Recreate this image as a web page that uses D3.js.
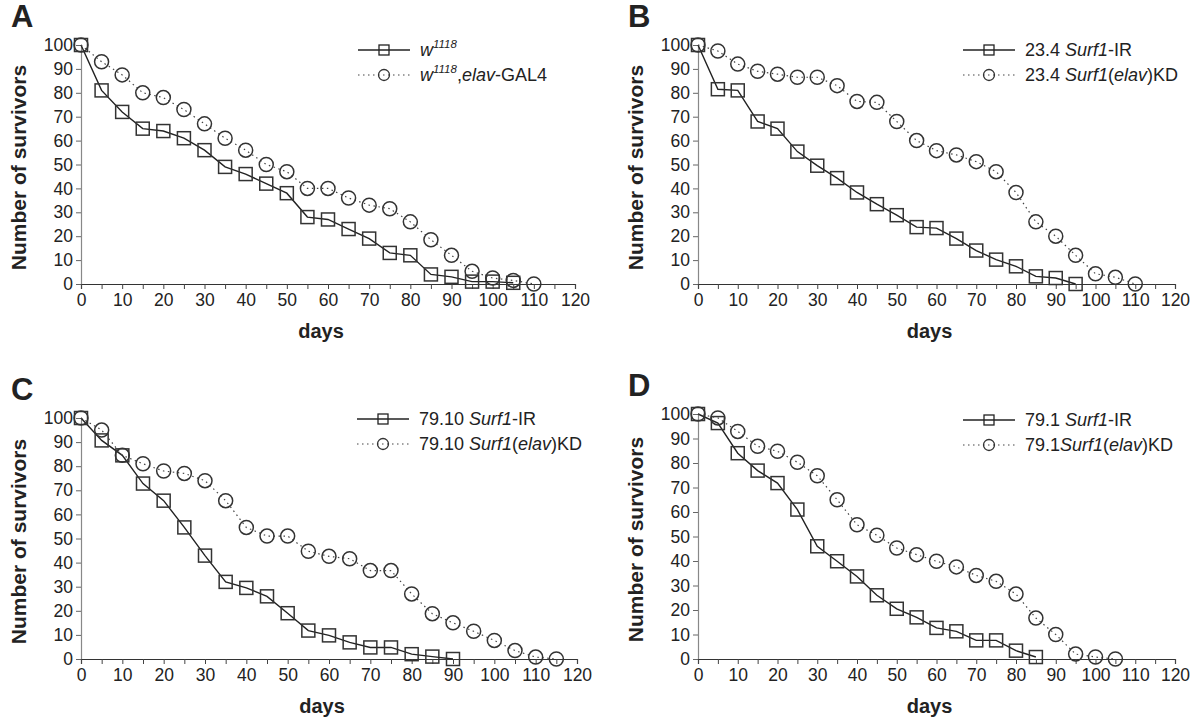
<!DOCTYPE html>
<html>
<head>
<meta charset="utf-8">
<script src="https://cdn.jsdelivr.net/npm/d3@7"></script>
<style>
  body { margin: 0; background: #fff; }
  svg { font-family: "Liberation Sans", Arial, sans-serif; }
</style>
</head>
<body>
<svg id="chart" width="1194" height="722"></svg>
<script>
// survival data (days every 5)
const xTicks = [0, 10, 20, 30, 40, 50, 60, 70, 80, 90, 100, 110, 120];
const yTicks = [0, 10, 20, 30, 40, 50, 60, 70, 80, 90, 100];

const aControl = [100, 81, 72, 65, 64, 61, 56, 49, 46, 42, 38, 28, 27, 23, 19, 13, 12, 4, 3, 1, 1, 0.5];
const aElav = [100, 93, 87.5, 80, 78, 73, 67, 61, 56, 50, 47, 40, 40, 36, 33, 31.5, 26, 18.5, 12, 5.3, 2.5, 1.5, 0];

const bIR = [100, 81.5, 81, 68, 65, 55.4, 49.5, 44.3, 38.3, 33.4, 28.8, 23.8, 23.4, 19, 14, 10.2, 7.4, 3.2, 2.5, 0];
const bKD = [100, 97.5, 92, 89, 87.8, 86.5, 86.5, 83, 76.4, 76, 68, 60, 55.8, 54, 51.2, 47, 38.3, 26, 20, 12, 4.3, 2.8, 0];

const cIR = [100, 90.7, 84.5, 72.8, 65.7, 54.6, 42.9, 32, 29.5, 26, 19, 11.8, 9.8, 6.9, 4.8, 4.8, 2, 1, 0];
const cKD = [100, 95, 84.5, 81, 78, 77, 74, 65.7, 54.6, 51, 51, 44.7, 42.6, 41.6, 36.7, 36.7, 27, 18.8, 15, 11.5, 7.7, 3.5, 0.8, 0];

const dIR = [100, 96.3, 84, 76.9, 71.8, 61, 46, 39.9, 33.7, 26, 20.5, 17, 12.7, 11.3, 7.6, 7.6, 3.4, 0.8];
const dKD = [100, 98.4, 92.9, 86.8, 84.8, 80.3, 74.8, 65, 54.8, 50.5, 45.3, 42.6, 39.9, 37.6, 34.1, 31.7, 26.5, 16.7, 10, 2, 0.8, 0];

const toPoints = (vals) => vals.map((v, i) => ({ day: i * 5, value: v }));

// legend text runs: [text, italic, superscript]
const panels = [
  {
    letter: "A", x0: 81, x1: 575, y0: 284, y1: 45, lx: 358, ly: 50,
    series: [toPoints(aControl), toPoints(aElav)],
    legend: [
      [["w", true], ["1118", true, true]],
      [["w", true], ["1118", true, true], [",", false], ["elav", true], ["-GAL4", false]],
    ],
  },
  {
    letter: "B", x0: 698, x1: 1175, y0: 284, y1: 45, lx: 963, ly: 50,
    series: [toPoints(bIR), toPoints(bKD)],
    legend: [
      [["23.4 ", false], ["Surf1", true], ["-IR", false]],
      [["23.4 ", false], ["Surf1", true], ["(", false], ["elav", true], [")KD", false]],
    ],
  },
  {
    letter: "C", x0: 81, x1: 577, y0: 659, y1: 418, lx: 357, ly: 419,
    series: [toPoints(cIR), toPoints(cKD)],
    legend: [
      [["79.10 ", false], ["Surf1", true], ["-IR", false]],
      [["79.10 ", false], ["Surf1", true], ["(", false], ["elav", true], [")KD", false]],
    ],
  },
  {
    letter: "D", x0: 698, x1: 1175, y0: 659, y1: 414, lx: 963, ly: 420,
    series: [toPoints(dIR), toPoints(dKD)],
    legend: [
      [["79.1 ", false], ["Surf1", true], ["-IR", false]],
      [["79.1", false], ["Surf1", true], ["(", false], ["elav", true], [")KD", false]],
    ],
  },
];

const svg = d3.select("#chart");
const ink = "#222";

panels.forEach((p) => {
  const x = d3.scaleLinear().domain([0, 120]).range([p.x0, p.x1]);
  const y = d3.scaleLinear().domain([0, 100]).range([p.y0, p.y1]);
  const g = svg.append("g");

  // y axis
  const yAxis = g.append("g")
    .attr("transform", `translate(${p.x0},0)`)
    .call(d3.axisLeft(y).tickValues(yTicks).tickSize(5).tickPadding(3));
  yAxis.select(".domain").attr("stroke", "#888").attr("stroke-width", 1.2);
  yAxis.selectAll(".tick line").attr("stroke", "#666");
  yAxis.selectAll("text").attr("font-size", 17.5).attr("fill", ink);

  // x axis, minor ticks every 5 days
  const xAxis = g.append("g")
    .attr("transform", `translate(0,${p.y0})`)
    .call(d3.axisBottom(x).tickValues(d3.range(0, 121, 5)).tickSize(5).tickPadding(5)
      .tickFormat((d) => (xTicks.includes(d) ? d : "")));
  xAxis.select(".domain").attr("stroke", "#333").attr("stroke-width", 1.2);
  xAxis.selectAll(".tick line").attr("stroke", "#444");
  xAxis.selectAll("text").attr("font-size", 17.5).attr("fill", ink);

  // axis titles
  g.append("text")
    .attr("x", (p.x0 + p.x1) / 2 - 7).attr("y", p.y0 + 54)
    .attr("text-anchor", "middle").attr("font-size", 20).attr("font-weight", "bold")
    .attr("fill", ink).text("days");
  g.append("text")
    .attr("transform", `translate(${p.x0 - 55},${(p.y0 + p.y1) / 2 + 3}) rotate(-90)`)
    .attr("text-anchor", "middle").attr("font-size", 21).attr("font-weight", "bold")
    .attr("fill", ink).text("Number of survivors");

  // panel letter
  g.append("text")
    .attr("x", p.x0 - 70).attr("y", p.y1 - 18)
    .attr("font-size", 31).attr("font-weight", "bold").attr("fill", ink)
    .text(p.letter);

  const line = d3.line().x((d) => x(d.day)).y((d) => y(d.value));

  // square series, solid
  g.append("path").datum(p.series[0])
    .attr("d", line).attr("fill", "none").attr("stroke", ink).attr("stroke-width", 1.4);
  g.selectAll(".sq").data(p.series[0]).join("rect")
    .attr("class", "sq")
    .attr("x", (d) => x(d.day) - 6.5).attr("y", (d) => y(d.value) - 6.5)
    .attr("width", 13).attr("height", 13)
    .attr("fill", "none").attr("stroke", "#333").attr("stroke-width", 1.5);

  // circle series, dotted
  g.append("path").datum(p.series[1])
    .attr("d", line).attr("fill", "none").attr("stroke", "#444")
    .attr("stroke-width", 1.2).attr("stroke-dasharray", "1.5,3.5");
  g.selectAll(".ci").data(p.series[1]).join("circle")
    .attr("class", "ci")
    .attr("cx", (d) => x(d.day)).attr("cy", (d) => y(d.value)).attr("r", 7)
    .attr("fill", "none").attr("stroke", "#333").attr("stroke-width", 1.5);

  // legend
  const leg = g.append("g").attr("transform", `translate(${p.lx},${p.ly})`);
  leg.append("line").attr("x1", 0).attr("x2", 52).attr("y1", 0).attr("y2", 0)
    .attr("stroke", ink).attr("stroke-width", 1.3);
  leg.append("rect").attr("x", 21).attr("y", -5).attr("width", 10).attr("height", 10)
    .attr("fill", "none").attr("stroke", ink).attr("stroke-width", 1.3);
  leg.append("line").attr("x1", 0).attr("x2", 52).attr("y1", 25).attr("y2", 25)
    .attr("stroke", "#444").attr("stroke-width", 1.2).attr("stroke-dasharray", "1.5,3.5");
  leg.append("circle").attr("cx", 26).attr("cy", 25).attr("r", 5.5)
    .attr("fill", "none").attr("stroke", "#333").attr("stroke-width", 1.3);

  p.legend.forEach((runs, i) => {
    const t = leg.append("text").attr("x", 62).attr("y", i * 25 + 6)
      .attr("font-size", 18).attr("fill", ink);
    let raised = false;
    runs.forEach(([txt, it, sup]) => {
      const ts = t.append("tspan").text(txt).attr("font-style", it ? "italic" : "normal");
      if (sup) {
        ts.attr("font-size", 11.5).attr("dy", -8);
        raised = true;
      } else if (raised) {
        ts.attr("dy", 8);
        raised = false;
      }
    });
  });
});
</script>
</body>
</html>
